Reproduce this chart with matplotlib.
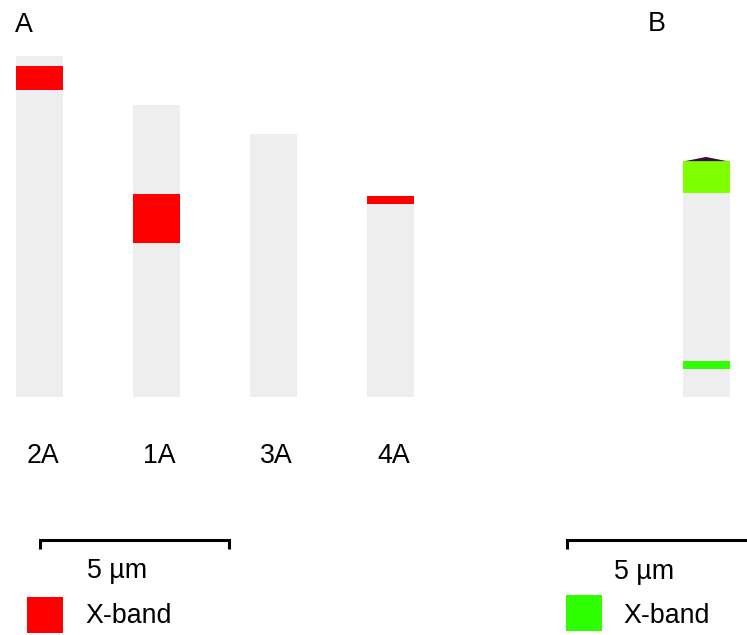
import matplotlib
matplotlib.use("Agg")
import matplotlib.pyplot as plt
from matplotlib.patches import Rectangle, Polygon

plt.rcParams["font.family"] = ["Liberation Sans", "DejaVu Sans"]

# chromosome data (µm)
names_a = ["2A", "1A", "3A", "4A"]
lengths_a = [9.02, 7.72, 6.96, 5.32]
# X-band (start, end) measured from the chromosome top, µm
bands_a = [[(0.26, 0.90)], [(2.35, 3.65)], [], [(0.0, 0.21)]]

length_b = 6.24
bands_b = [(0.0, 0.85), (5.29, 5.50)]
band_colors_b = ["#80ff00", "#33ff00"]
cap_b = 0.11  # small dark tip on top of B

scale_um = 5

# layout (pixels)
W, H = 747, 635
PX = 189 / scale_um          # pixels per µm
BOTTOM = 397
CW = 47
xs_a = [16, 133, 250, 367]
x_b = 683
GREY = "#eeeeee"
RED = "#ff0000"
FS = 19.3

fig = plt.figure(figsize=(W / 100, H / 100), dpi=100)
ax = fig.add_axes([0, 0, 1, 1])
ax.set_xlim(0, W)
ax.set_ylim(H, 0)
ax.axis("off")


def chromosome(x, length, bands, colors):
    top = BOTTOM - length * PX
    ax.add_patch(Rectangle((x, top), CW, length * PX, color=GREY, lw=0))
    for (s, e), c in zip(bands, colors):
        ax.add_patch(Rectangle((x, top + s * PX), CW, (e - s) * PX, color=c, lw=0))
    return top


for x, name, ln, bd in zip(xs_a, names_a, lengths_a, bands_a):
    chromosome(x, ln, bd, [RED] * len(bd))
    ax.text(x + CW / 2 + 3, 463, name, fontsize=FS, ha="center", va="baseline")

top_b = chromosome(x_b, length_b, bands_b, band_colors_b)
ax.add_patch(Polygon([(x_b + 2, top_b), (x_b + 23, top_b - cap_b * PX),
                      (x_b + 44, top_b)], closed=True, color="#3d0a3d", lw=0))

ax.text(24, 32, "A", fontsize=FS, ha="center", va="baseline")
ax.text(657, 31, "B", fontsize=FS, ha="center", va="baseline")


def scale_bar(x0, tx, y_text):
    x1 = x0 + scale_um * PX
    ax.plot([x0, x0, x1, x1], [549, 540, 540, 549], color="black", lw=2.2,
            solid_joinstyle="miter", solid_capstyle="butt")
    ax.text(tx, y_text, f"{scale_um} µm", fontsize=FS, ha="center", va="baseline")


def legend(x, y, color, tx):
    ax.add_patch(Rectangle((x, y), 36, 36, color=color, lw=0))
    ax.text(tx, 623, "X-band", fontsize=FS, ha="left", va="baseline")


scale_bar(40, 117, 578)
legend(27, 597, RED, 85)
scale_bar(567, 644, 579)
legend(566, 595, "#2eff00", 623)

fig.savefig("out.png", dpi=100)
